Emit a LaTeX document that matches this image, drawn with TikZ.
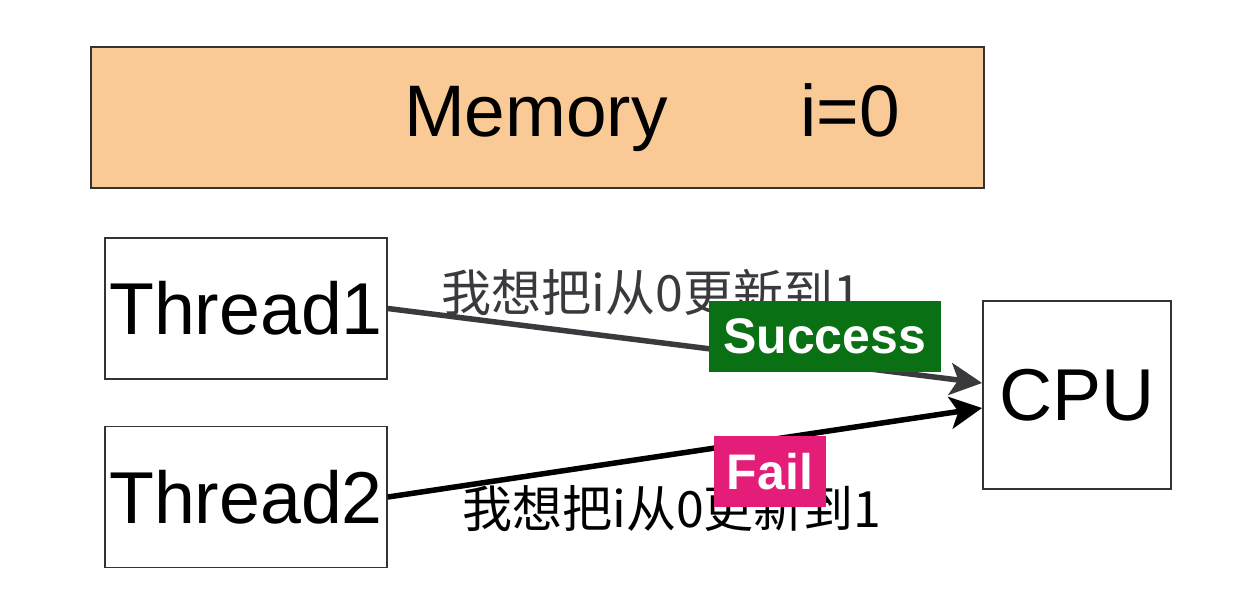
\documentclass[tikz,border=0pt]{standalone}
\usepackage{fontspec}
\setmainfont{Liberation Sans}
\newfontfamily\cjk{Noto Sans CJK SC}
\usetikzlibrary{arrows.meta}
\definecolor{memfill}{RGB}{250,202,150}
\definecolor{okgreen}{RGB}{10,112,20}
\definecolor{failpink}{RGB}{228,30,120}
\definecolor{arrowgray}{RGB}{58,58,62}

\begin{document}
\begin{tikzpicture}[x=1pt,y=-1pt,node distance=188.5pt,
  box/.style={rectangle,draw=black!80,line width=1.8pt,inner sep=0pt,font=\fontsize{73.5}{80}\selectfont},
  tag/.style={rectangle,inner sep=0pt,text=white,font=\bfseries\fontsize{50}{56}\selectfont,minimum height=71pt},
  wish/.style={font=\cjk\fontsize{50}{56}\selectfont,inner sep=0pt},
  link/.style={line width=5.5pt,-{Stealth[length=32pt,width=32pt,inset=8pt]}}]
  \useasboundingbox (0,0) rectangle (1243,600);
  \node[box,fill=memfill,minimum width=893pt,minimum height=141pt,text width=893pt,align=left,font=\fontsize{73}{80}\selectfont] (mem) at (537.5,117.5) {\hspace*{313pt}Memory\hspace{133pt}i=0};
  \node[box,minimum width=282pt,minimum height=141pt] (t1) at (246,308.5) {Thread1};
  \node[box,minimum width=282pt,minimum height=141pt] (t2) [below of=t1] {Thread2};
  \node[box,minimum width=188pt,minimum height=188pt] (cpu) at (1077,395) {CPU};

  % the two requests
  \draw[link,arrowgray] (t1.east) -- ([yshift=12pt]cpu.west)
    node[wish,pos=.443,yshift=49pt] {我想把i从0更新到1}
    node[tag,fill=okgreen,minimum width=232pt,pos=.735,yshift=26.5pt] {Success};
  \draw[link,black] (t2.east) -- ([yshift=-13pt]cpu.west)
    node[wish,pos=.478,yshift=-54pt] {我想把i从0更新到1}
    node[tag,fill=failpink,minimum width=112pt,pos=.643,yshift=-31.6pt] {Fail};
\end{tikzpicture}
\end{document}
